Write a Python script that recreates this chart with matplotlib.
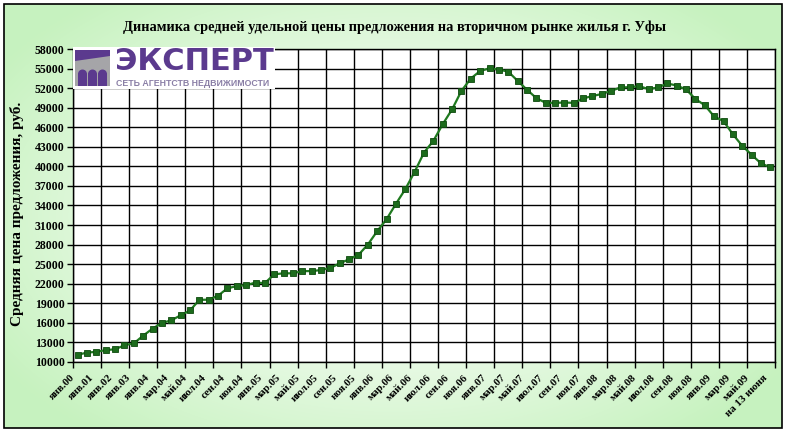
import numpy as np
import matplotlib
matplotlib.use("Agg")
import matplotlib.pyplot as plt
from matplotlib.transforms import ScaledTranslation
from matplotlib.patches import Rectangle, Polygon, Wedge

# ---------------- data ----------------
categories = (
    ["янв.00", "июл.00", "янв.01", "июл.01", "янв.02", "июл.02", "янв.03", "июл.03"]
    + [f"{m}.{y:02d}" for y in range(4, 10)
       for m in ["янв", "фев", "мар", "апр", "май", "июн",
                 "июл", "авг", "сен", "окт", "ноя", "дек"]][:65]
    + ["июн.09", "на 13 июня"]
)

prices = [
    11100, 11450, 11550, 11830, 11950, 12570, 12860, 14040, 15120, 15980,
    16390, 17160, 17900, 19530, 19560, 20170, 21300, 21640, 21790, 22180,
    22100, 23450, 23600, 23600, 23940, 23940, 24100, 24450, 25120, 25760,
    26430, 28010, 30060, 31900, 34250, 36500, 39160, 42120, 43910, 46470,
    48740, 51580, 53470, 54630, 55050, 54840, 54530, 53120, 51760, 50470,
    49740, 49740, 49790, 49740, 50420, 50790, 51100, 51590, 52100, 52150,
    52300, 51850, 52100, 52710, 52400, 51800, 50330, 49370, 47650, 46940,
    44920, 43150, 41780, 40460, 39860,
]

y_ticks = list(range(10000, 58001, 3000))

title = "Динамика средней удельной цены предложения на вторичном рынке жилья г. Уфы"
y_label = "Средняя цена предложения, руб."

# ---------------- figure ----------------
W, H = 786, 433
fig = plt.figure(figsize=(W / 100, H / 100), dpi=100)

# background gradient
bg = fig.add_axes([0, 0, 1, 1], zorder=-10)
bg.set_xlim(0, W)
bg.set_ylim(H, 0)
bg.axis("off")
xx, yy = np.meshgrid(np.linspace(-1, 1, 200), np.linspace(-1, 1, 120))
t = np.clip(np.sqrt((xx * 1.0) ** 2 + (yy * 0.9) ** 2) / 1.2, 0, 1) ** 1.3
green = np.array([0.78, 0.95, 0.75])
white = np.array([1.0, 1.0, 1.0])
img = white[None, None, :] * (1 - t[..., None]) + green[None, None, :] * t[..., None]
bg.imshow(img, extent=[4, 782, 428, 4], aspect="auto", interpolation="bilinear")
bg.add_patch(Rectangle((4, 4), 778, 424, fill=False, edgecolor="black", lw=1.2))

# plot axes
L, R, T, B = 73, 775, 49, 362
ax = fig.add_axes([L / W, 1 - B / H, (R - L) / W, (B - T) / H])
ax.set_facecolor("white")

x = np.arange(len(prices))
ax.plot(x, prices, color="#1f7a1f", lw=1.6, marker="s", markersize=4.6,
        markerfacecolor="#1c6b1c", markeredgecolor="#0e4a0e", markeredgewidth=0.6,
        zorder=5)

ax.set_xlim(-0.5, len(prices) - 0.5)
ax.set_ylim(10000, 58000)
ax.set_yticks(y_ticks)
ax.set_yticklabels([str(v) for v in y_ticks])

# major x ticks: every 3 categories (gridlines); minor ticks: labels every 2
ax.set_xticks(np.arange(-0.5, len(prices), 3))
ax.set_xticklabels([])
lab_idx = list(range(0, len(prices), 2))
ax.set_xticks(lab_idx, minor=True)
ax.set_xticklabels([categories[i] for i in lab_idx], minor=True)

ax.grid(True, which="major", color="black", lw=1.0)
ax.set_axisbelow(True)
for s in ax.spines.values():
    s.set_color("black")
    s.set_linewidth(1.0)

ax.tick_params(axis="y", which="major", direction="out", length=4, width=1,
               pad=2, labelsize=8.5)
ax.tick_params(axis="x", which="major", direction="out", length=4, width=1)
ax.tick_params(axis="x", which="minor", length=0, pad=8, labelsize=7.8)

for lab in ax.get_yticklabels():
    lab.set_fontfamily("Liberation Serif")
    lab.set_fontweight("bold")
off = ScaledTranslation(-7 / 100, 0, fig.dpi_scale_trans)
for lab in ax.get_xticklabels(minor=True):
    lab.set_fontfamily("Liberation Serif")
    lab.set_fontweight("bold")
    lab.set_rotation(45)
    lab.set_rotation_mode("anchor")
    lab.set_ha("right")
    lab.set_va("top")
    lab.set_transform(lab.get_transform() + off)

fig.text(0.5025, 1 - 27 / H, title, ha="center", va="center",
         fontfamily="Liberation Serif", fontweight="bold", fontsize=10.4)
fig.text(17 / W, 1 - 214 / H, y_label, ha="center", va="center", rotation=90,
         fontfamily="Liberation Serif", fontweight="bold", fontsize=11)

# ---------------- logo ----------------
lg = fig.add_axes([73 / W, 1 - 89 / H, 202 / W, 42 / H], zorder=20)
lg.set_xlim(0, 202)
lg.set_ylim(0, 42)
lg.axis("off")
lg.add_patch(Rectangle((0, 0), 202, 42, facecolor="white", edgecolor="none"))
purple = "#5b3a8e"
lg.add_patch(Rectangle((2, 3), 35, 36, facecolor="#a5a5a8", edgecolor="none"))
lg.add_patch(Polygon([(2, 39), (37, 39), (37, 33), (2, 28)], closed=True,
                     facecolor=purple, edgecolor="none"))
for cx in (9.5, 19.5, 29.5):
    lg.add_patch(Rectangle((cx - 4.5, 3), 9, 12, facecolor=purple, edgecolor="none"))
    lg.add_patch(Wedge((cx, 15), 4.5, 0, 180, facecolor=purple, edgecolor="none"))
lg.text(42, 27, "ЭКСПЕРТ", ha="left", va="center", color=purple,
        fontfamily="DejaVu Sans", fontweight="bold", fontsize=22)
lg.text(43, 5, "СЕТЬ АГЕНТСТВ НЕДВИЖИМОСТИ", ha="left", va="center",
        color="#8a7fa6", fontfamily="Liberation Sans", fontweight="bold",
        fontsize=6.3)

fig.savefig("out.png", dpi=100)
